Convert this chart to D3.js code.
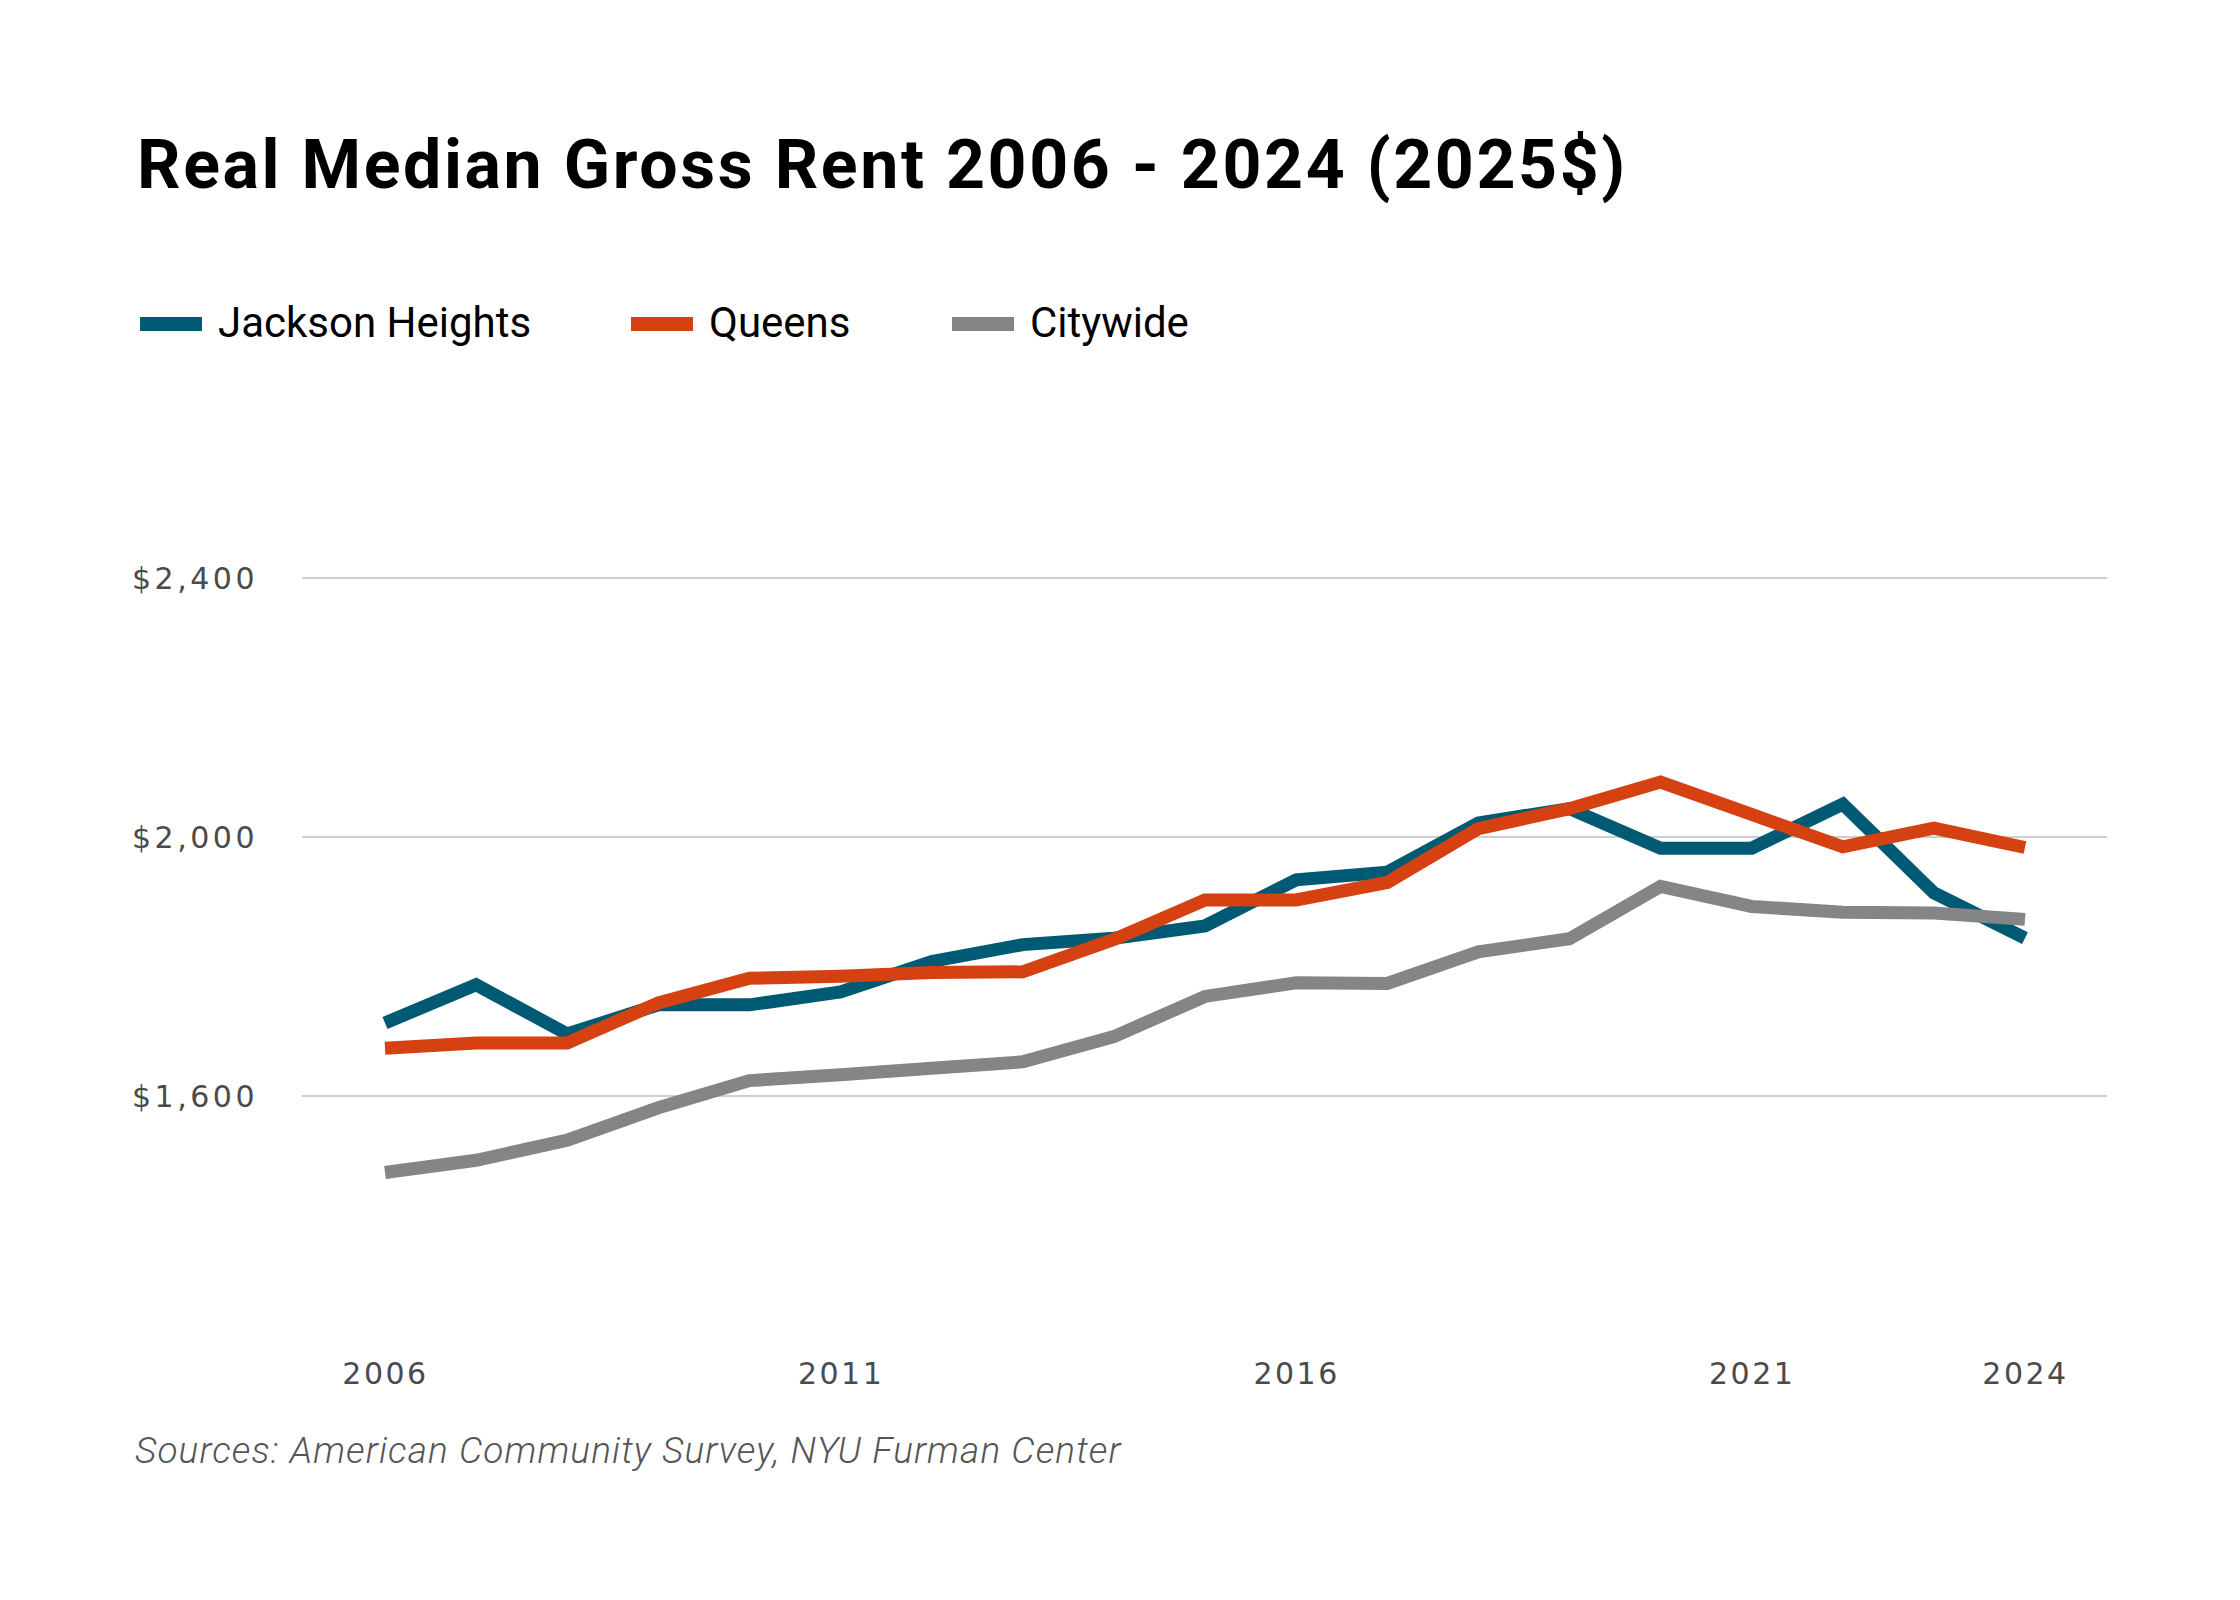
<!DOCTYPE html>
<html>
<head>
<meta charset="utf-8">
<script src="https://cdn.jsdelivr.net/npm/d3@7/dist/d3.min.js"></script>
<style>
  html, body { margin: 0; padding: 0; background: #ffffff; }
  svg { display: block; }
</style>
</head>
<body>
<svg id="chart" width="2240" height="1600"></svg>
<script>
// ---- Data ----
const years = [2006,2007,2008,2009,2010,2011,2012,2013,2014,2015,2016,2017,2018,2019,2020,2021,2022,2023,2024];
const jacksonHeights = [1712,1771,1695,1740,1740,1760,1807,1833,1843,1862,1933,1945,2021,2043,1982,1982,2050,1913,1843];
const queens = [1673,1681,1681,1743,1781,1784,1790,1791,1841,1902,1902,1929,2012,2043,2084,2034,1984,2013,1983];
const citywide = [1481,1500,1531,1581,1623,1632,1642,1652,1691,1753,1774,1773,1822,1842,1923,1892,1883,1882,1872];
const seriesNames = ["Jackson Heights", "Queens", "Citywide"];
const yTicks = [1600, 2000, 2400];
const xTicks = [2006, 2011, 2016, 2021, 2024];
const titleText = "Real Median Gross Rent 2006 - 2024 (2025$)";
const sourceText = "Sources: American Community Survey, NYU Furman Center";

// ---- Styles ----
const colors = {"Jackson Heights": "#005a73", "Queens": "#d64112", "Citywide": "#848587"};
const seriesValues = {"Jackson Heights": jacksonHeights, "Queens": queens, "Citywide": citywide};

const svg = d3.select("#chart");
svg.append("rect").attr("width", 2240).attr("height", 1600).attr("fill", "#ffffff");

const x = d3.scaleLinear().domain([2006, 2024]).range([385, 2025]);
const y = d3.scaleLinear().domain([1200, 2800]).range([1354.5, 318.5]);

// Title
svg.append("text")
  .attr("x", 137).attr("y", 188)
  .attr("font-family", "Roboto, 'Noto Sans', sans-serif")
  .attr("font-weight", 700)
  .attr("font-size", 68)
  .attr("letter-spacing", 2.6)
  .attr("fill", "#000000")
  .text(titleText);

// Legend
const legendX = [140, 631, 952];
const legend = svg.append("g");
seriesNames.forEach((name, i) => {
  legend.append("rect")
    .attr("x", legendX[i]).attr("y", 317)
    .attr("width", 62).attr("height", 14)
    .attr("fill", colors[name]);
  legend.append("text")
    .attr("x", legendX[i] + 78).attr("y", 337)
    .attr("font-family", "Roboto, 'Noto Sans', sans-serif")
    .attr("font-size", 42)
    .attr("fill", "#000000")
    .text(name);
});

// Gridlines + y labels
const yAxis = d3.axisLeft(y).tickValues(yTicks).tickSize(0)
  .tickFormat(d => "$" + d3.format(",")(d));
const gy = svg.append("g").attr("transform", "translate(302,0)").call(yAxis);
gy.select(".domain").remove();
gy.selectAll(".tick line").remove();
gy.selectAll(".tick").append("line")
  .attr("x1", 0).attr("x2", 2107 - 302)
  .attr("stroke", "#cfcfcf").attr("stroke-width", 2);
gy.selectAll(".tick text")
  .attr("x", -44)
  .attr("dy", "0.38em")
  .attr("font-family", "'DejaVu Sans', sans-serif")
  .attr("font-size", 30)
  .attr("letter-spacing", 3.5)
  .attr("fill", "#4a4a4c")
  .attr("text-anchor", "end");

// x labels
const xAxis = d3.axisBottom(x).tickValues(xTicks).tickSize(0).tickFormat(d3.format("d"));
const gx = svg.append("g").attr("transform", "translate(0,1384)").call(xAxis);
gx.select(".domain").remove();
gx.selectAll(".tick text")
  .attr("y", 0).attr("dy", 0)
  .attr("font-family", "'DejaVu Sans', sans-serif")
  .attr("font-size", 30)
  .attr("letter-spacing", 2.5)
  .attr("fill", "#4a4a4c")
  .attr("text-anchor", "middle");

// Lines
const line = d3.line().x((d, i) => x(years[i])).y(d => y(d));
seriesNames.forEach(name => {
  svg.append("path")
    .datum(seriesValues[name])
    .attr("d", line)
    .attr("fill", "none")
    .attr("stroke", colors[name])
    .attr("stroke-width", 13)
    .attr("stroke-linejoin", "miter")
    .attr("stroke-linecap", "butt");
});

// Source
svg.append("text")
  .attr("x", 135).attr("y", 1463)
  .attr("font-family", "Roboto, 'Noto Sans', sans-serif")
  .attr("font-style", "italic")
  .attr("font-weight", 300)
  .attr("font-size", 37)
  .attr("letter-spacing", 1.1)
  .attr("fill", "#555555")
  .text(sourceText);
</script>
</body>
</html>
